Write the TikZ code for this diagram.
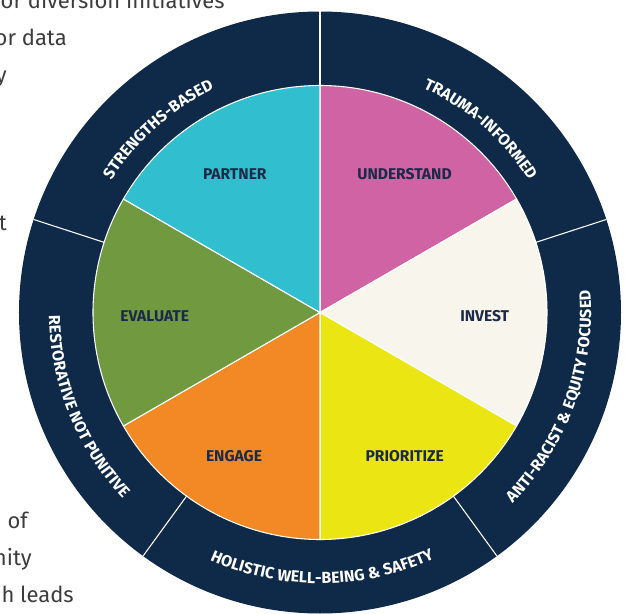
\documentclass[tikz,border=0pt]{standalone}
\usepackage{fontspec}
\setmainfont{Fira Sans}
\usetikzlibrary{decorations.text}

\definecolor{ringnavy}{HTML}{0E2A48}
\definecolor{lblnavy}{HTML}{1B2A4A}
\definecolor{bodygray}{HTML}{3C3C3C}
\definecolor{pinkslice}{HTML}{D063A4}
\definecolor{creamslice}{HTML}{F8F6EC}
\definecolor{yellowslice}{HTML}{ECE514}
\definecolor{orangeslice}{HTML}{F28924}
\definecolor{greenslice}{HTML}{709940}
\definecolor{cyanslice}{HTML}{31BFD0}

\newcommand{\pier}{227}
\newcommand{\ringr}{301}
\newcommand{\ringfont}{\fontsize{12}{14}\selectfont\bfseries}
\newcommand{\pn}{\node[font=\fontsize{11.7}{14}\selectfont\bfseries, text=lblnavy]}
\newcommand{\bt}{\node[anchor=base east, inner sep=0pt, font=\fontsize{16.5}{20}\selectfont, text=bodygray]}

\tikzset{
    slice/.style={draw=white, line width=0.8pt},
    ringsep/.style={draw=white, line width=0.8pt},
    ringtxt/.style={decorate, decoration={text along path, text color=white,
        text align=center, text={|\ringfont|#1}}}
}

\begin{document}
\begin{tikzpicture}[x=0.75pt, y=0.75pt]
            \useasboundingbox (-320,-301.5) rectangle (305,312.5);
            \clip (-320,-301.5) rectangle (305,312.5);

            % text of the page round the wheel
            \bt (line1) at (-95, 303.5) {or diversion initiatives};
            \bt (line2) at (-253, 266.5) {or data};
            \bt (line3) at (-313, 229.5) {y};
            \bt (line4) at (-313, 81.5) {t};
            \bt (line5) at (-292, -215.5) {of};
            \bt (line6) at (-288, -252.5) {nity};
            \bt (line7) at (-246, -289.5) {h leads};

            % outer ring
            \fill[ringnavy] (0,0) circle[radius=\ringr];
            \draw[ringsep] (90:\pier) -- (90:\ringr);
            \draw[ringsep] (18:\pier) -- (18:\ringr);
            \draw[ringsep] (-54:\pier) -- (-54:\ringr);
            \draw[ringsep] (-126:\pier) -- (-126:\ringr);
            \draw[ringsep] (162:\pier) -- (162:\ringr);

            % slices
            \draw[slice, fill=pinkslice] (0,0) -- (30:\pier) arc[start angle=30, end angle=90, radius=\pier] -- cycle;
            \draw[slice, fill=creamslice] (0,0) -- (-30:\pier) arc[start angle=-30, end angle=30, radius=\pier] -- cycle;
            \draw[slice, fill=yellowslice] (0,0) -- (-90:\pier) arc[start angle=-90, end angle=-30, radius=\pier] -- cycle;
            \draw[slice, fill=orangeslice] (0,0) -- (210:\pier) arc[start angle=210, end angle=270, radius=\pier] -- cycle;
            \draw[slice, fill=greenslice] (0,0) -- (150:\pier) arc[start angle=150, end angle=210, radius=\pier] -- cycle;
            \draw[slice, fill=cyanslice] (0,0) -- (90:\pier) arc[start angle=90, end angle=150, radius=\pier] -- cycle;

            \pn (understand) at (84.5, 138.8) {UNDERSTAND};
            \pn (invest) at (164.7, -3.5) {INVEST};
            \pn (prioritize) at (84.7, -143.5) {PRIORITIZE};
            \pn (engage) at (-86, -143.5) {ENGAGE};
            \pn (evaluate) at (-165.3, -3.5) {EVALUATE};
            \pn (partner) at (-85.2, 138.5) {PARTNER};

            % ring texts
            \path[ringtxt={STRENGTHS-BASED}] (171.5:247) arc[start angle=171.5, end angle=91.5, radius=247];
            \path[ringtxt={TRAUMA-INFORMED}] (88.8:247) arc[start angle=88.8, end angle=8.8, radius=247];
            \path[ringtxt={ANTI-RACIST {\&} EQUITY FOCUSED}] (-60:271) arc[start angle=-60, end angle=20, radius=271];
            \path[ringtxt={HOLISTIC WELL-BEING {\&} SAFETY}] (-129.5:271) arc[start angle=-129.5, end angle=-49.5, radius=271];
            \path[ringtxt={RESTORATIVE NOT PUNITIVE}] (162:271) arc[start angle=162, end angle=242, radius=271];
\end{tikzpicture}
\end{document}
